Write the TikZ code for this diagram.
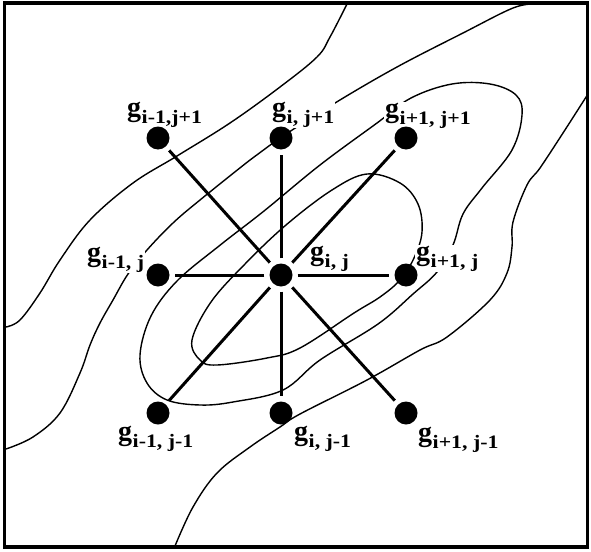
\documentclass[tikz,border=0pt]{standalone}
\usepackage{fontspec}
\setmainfont{Liberation Serif}
\newcommand\gsub[1]{{\fontsize{28}{28}\selectfont g}\kern0.5pt\raisebox{-7pt}{\fontsize{19}{19}\selectfont\scalebox{1.15}[1]{#1}}}
\tikzset{
  contour/.style={line width=1.4pt, line join=round},
  spoke/.style={line width=3pt, shorten >=5pt, shorten <=5pt},
  dot/.style={circle, fill=black, minimum size=23pt, inner sep=0pt},
  glabel/.style={anchor=base west, inner sep=1pt, fill=white, font=\bfseries},
}
\begin{document}
\begin{tikzpicture}[x=1pt,y=-1pt]
\useasboundingbox (0,0) rectangle (591,551);
\draw[line width=3.5pt] (4.5,3) rectangle (587.5,547);
% contours
\draw[contour] plot[smooth, tension=0.6] coordinates {(347,4) (330,37) (317,57) (280,87) (230,123) (177,156) (133,183) (90,220) (60,260) (40,293) (20,320) (6,327)};
\draw[contour] plot[smooth, tension=0.6] coordinates {(6,449) (33,437) (60,413) (80,373) (90,345) (100,323) (113,300) (128,274) (147,250) (173,223) (200,200) (250,160) (277,140) (335,103) (397,67) (463,33) (513,8) (535,4)};
\draw[contour] plot[smooth cycle, tension=0.6] coordinates {(411,98) (452,84) (490,84) (516,95) (522,115) (512,150) (482,188) (463,214) (453,245) (437,272) (413,294) (378,324) (320,360) (283,390) (233,402) (200,405) (167,400) (147,383) (140,355) (151,316) (177,281) (219,246) (264,211) (320,165) (377,123)};
\draw[contour] plot[smooth cycle, tension=0.6] coordinates {(367,174) (400,183) (418,204) (422,232) (414,258) (400,280) (380,297) (354,313) (300,348) (267,358) (217,365) (200,360) (192,340) (211,302) (245,264) (286,225) (332,190)};
\draw[contour] plot[smooth, tension=0.6] coordinates {(175,546) (193,507) (217,473) (250,447) (280,427) (300,414) (367,380) (420,350) (447,337) (490,300) (507,273) (512,247) (513,222) (527,185) (540,168) (563,133) (588,94)};
% labels
\node[glabel] (lul) at (126,116) {\gsub{i-1,j+1}};
\node[glabel] (lum) at (271,116) {\gsub{i, j+1}};
\node[glabel] (lur) at (384,117) {\gsub{i+1, j+1}};
\node[glabel] (lml) at (86,261) {\gsub{i-1, j}};
\node[glabel] (lc)  at (309,260) {\gsub{i, j}};
\node[glabel] (lmr) at (415,260) {\gsub{i+1, j}};
\node[glabel] (lll) at (117,440) {\gsub{i-1, j-1}};
\node[glabel] (llm) at (293,440) {\gsub{i, j-1}};
\node[glabel] (llr) at (417,441) {\gsub{i+1, j-1}};
% dots
\node[dot] (ul) at (158,138) {};
\node[dot] (um) at (281,138) {};
\node[dot] (ur) at (406,138) {};
\node[dot] (ml) at (158,275) {};
\node[dot] (c)  at (281,275) {};
\node[dot] (mr) at (406,275) {};
\node[dot] (ll) at (158,413) {};
\node[dot] (lm) at (281,413) {};
\node[dot] (lr) at (406,413) {};
% spokes
\foreach \n in {ul,um,ur,ml,mr,ll,lm,lr} \draw[spoke] (c) -- (\n);
\end{tikzpicture}
\end{document}
